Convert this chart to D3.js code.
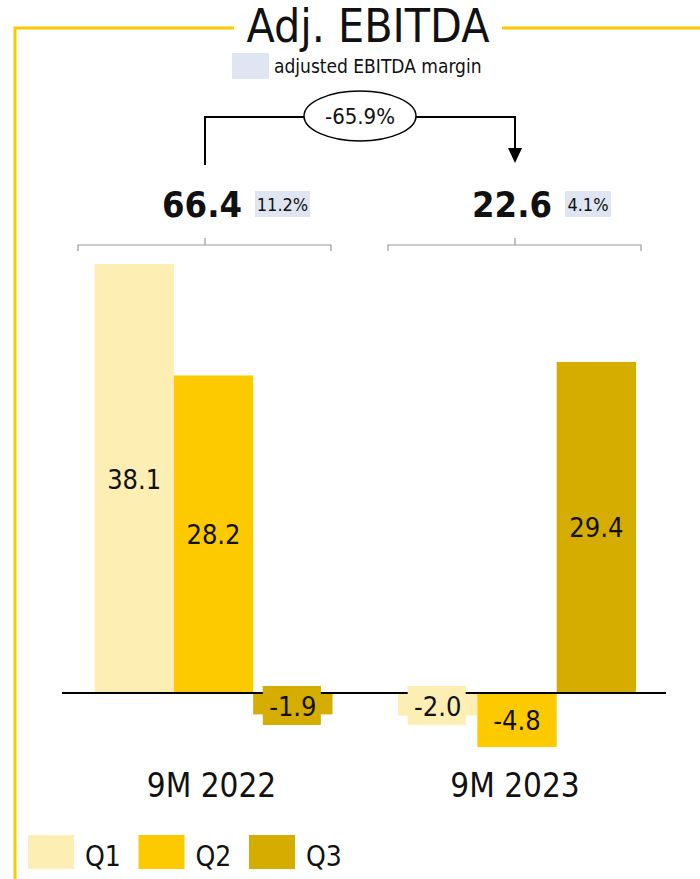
<!DOCTYPE html>
<html>
<head>
<meta charset="utf-8">
<script src="https://cdn.jsdelivr.net/npm/d3@7"></script>
<style>
body{margin:0;background:#fff;}
text{font-family:"Liberation Sans Narrow","DejaVu Sans Condensed",sans-serif;fill:#111;}
</style>
</head>
<body>
<div id="chart"></div>
<script>
// data
var periods = ["9M 2022", "9M 2023"];
var quarters = ["Q1", "Q2", "Q3"];
var q1 = [38.1, -2.0];
var q2 = [28.2, -4.8];
var q3 = [-1.9, 29.4];
var totals = [66.4, 22.6];
var margins = ["11.2%", "4.1%"];
var change = "-65.9%";

var width = 700, height = 879;
var colors = ["#fdefb3", "#fdca00", "#d4ad00"];
var frame = "#fdc800";

var svg = d3.select("#chart").append("svg")
    .attr("width", width).attr("height", height);

// frame
svg.append("path")
    .attr("d", "M15,880 V28 H234 M502,28 H700")
    .attr("fill", "none").attr("stroke", frame).attr("stroke-width", 3);

svg.append("text").attr("x", 368).attr("y", 42)
    .attr("text-anchor", "middle").attr("font-size", 46)
    .text("Adj. EBITDA");

svg.append("rect").attr("x", 232).attr("y", 53).attr("width", 37).attr("height", 26).attr("fill", "#dfe6f1");
svg.append("text").attr("x", 274).attr("y", 73).attr("font-size", 19).text("adjusted EBITDA margin");

var x0 = d3.scaleBand().domain(periods).range([61.75, 668.75]);
var x1 = d3.scaleBand().domain(quarters).range([0, 238]);
var y = d3.scaleLinear().domain([0, 38.1]).range([693, 264]);

var rows = [];
periods.forEach(function(p, i) {
    rows.push({p: p, q: "Q1", v: q1[i]});
    rows.push({p: p, q: "Q2", v: q2[i]});
    rows.push({p: p, q: "Q3", v: q3[i]});
});

function gx(p) { return x0(p) + (x0.bandwidth() - 238) / 2; }
function center(p) { return x0(p) + x0.bandwidth() / 2; }
var color = d3.scaleOrdinal().domain(quarters).range(colors);

svg.selectAll(".bar").data(rows).enter().append("rect")
    .attr("class", "bar")
    .attr("x", function(d) { return gx(d.p) + x1(d.q); })
    .attr("width", x1.bandwidth())
    .attr("y", function(d) { return y(Math.max(0, d.v)); })
    .attr("height", function(d) { return Math.abs(y(d.v) - y(0)); })
    .attr("fill", function(d) { return color(d.q); });

// label backgrounds for small negative bars
rows.forEach(function(d) {
    var cx = gx(d.p) + x1(d.q) + x1.bandwidth() / 2;
    if (d.v < 0 && Math.abs(y(d.v) - y(0)) < 34) {
        svg.append("rect").attr("x", cx - 30).attr("y", 686)
            .attr("width", 58).attr("height", 39).attr("fill", color(d.q));
    }
});

// zero line
svg.append("line").attr("x1", 62).attr("x2", 666).attr("y1", y(0)).attr("y2", y(0))
    .attr("stroke", "#000").attr("stroke-width", 2);
rows.forEach(function(d) {
    var cx = gx(d.p) + x1(d.q) + x1.bandwidth() / 2;
    if (d.v < 0 && Math.abs(y(d.v) - y(0)) < 34) {
        svg.append("rect").attr("x", cx - 30).attr("y", 686)
            .attr("width", 58).attr("height", 8).attr("fill", color(d.q));
    }
});

// labels
rows.forEach(function(d) {
    var cx = gx(d.p) + x1(d.q) + x1.bandwidth() / 2;
    var cy = d.v > 0 ? (y(d.v) + y(0)) / 2 : Math.max((y(d.v) + y(0)) / 2, 706);
    svg.append("text").attr("x", cx).attr("y", cy + 10)
        .attr("text-anchor", "middle").attr("font-size", 27).text(d.v.toFixed(1));
});

// category labels
svg.selectAll(".cat").data(periods).enter().append("text")
    .attr("x", function(p) { return center(p) - 2; }).attr("y", 797)
    .attr("text-anchor", "middle").attr("font-size", 33)
    .text(function(p) { return p; });

// brackets + totals
var cs = [205, 515];
periods.forEach(function(p, i) {
    var c = center(p) - (i ? 2 : 8.5);
    cs[i] = c;
    svg.append("path")
        .attr("d", "M" + (c - 127) + ",251 V245 H" + (c + 126) + " V251 M" + c + ",245 V238")
        .attr("fill", "none").attr("stroke", "#999").attr("stroke-width", 1.2);
    svg.append("text").attr("x", c + 37).attr("y", 217)
        .attr("text-anchor", "end").attr("font-size", 36).attr("font-weight", "bold")
        .text(totals[i].toFixed(1));
    var mw = margins[i].length * 9 + 10;
    svg.append("rect").attr("x", c + 50).attr("y", 191).attr("width", mw).attr("height", 26).attr("fill", "#dfe6f1");
    svg.append("text").attr("x", c + 50 + mw / 2).attr("y", 211)
        .attr("text-anchor", "middle").attr("font-size", 18).text(margins[i]);
});

// change arrow
var ax1 = cs[0], ax2 = cs[1];
svg.append("path")
    .attr("d", "M" + ax1 + ",165 V117 H" + ax2 + " V150")
    .attr("fill", "none").attr("stroke", "#000").attr("stroke-width", 2);
svg.append("path")
    .attr("d", "M" + (ax2 - 7) + ",148 H" + (ax2 + 7) + " L" + ax2 + ",163 Z")
    .attr("fill", "#000");
svg.append("ellipse").attr("cx", 360).attr("cy", 116).attr("rx", 56).attr("ry", 25)
    .attr("fill", "#fff").attr("stroke", "#000").attr("stroke-width", 1.5);
svg.append("text").attr("x", 360).attr("y", 124).attr("text-anchor", "middle")
    .attr("font-size", 22).text(change);

// legend
quarters.forEach(function(q, i) {
    var lx = 28 + i * 110.5;
    svg.append("rect").attr("x", lx).attr("y", 835).attr("width", 46).attr("height", 34).attr("fill", colors[i]);
    svg.append("text").attr("x", lx + 57).attr("y", 866).attr("font-size", 28).text(q);
});
</script>
</body>
</html>
